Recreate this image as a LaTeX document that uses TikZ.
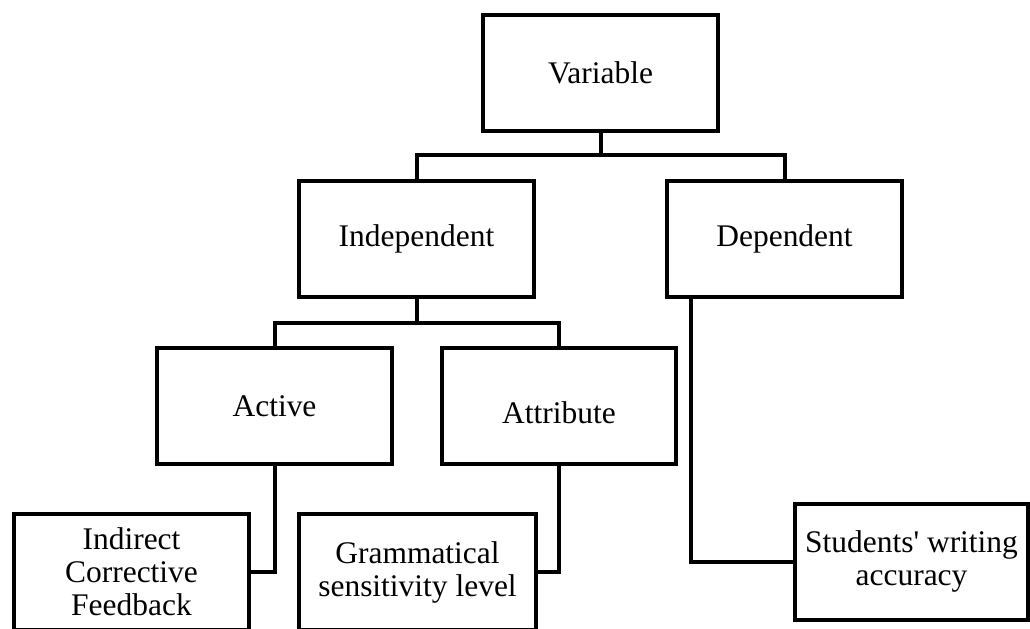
\documentclass[tikz,border=0pt]{standalone}
\usepackage{fontspec}
\setmainfont{Liberation Serif}
\usepackage{tikz}
\usetikzlibrary{calc}
\usetikzlibrary{positioning}

\tikzset{
  varbox/.style={rectangle, draw=black, line width=3pt, minimum width=176pt, minimum height=87pt, align=center, inner sep=2pt, font=\fontsize{23.6pt}{24.75pt}\selectfont},
  branch/.style={black, line width=3pt}
}

\begin{document}
\begin{tikzpicture}[x=0.75pt, y=-0.75pt]
\clip (0,0) rectangle (1030,628);
\useasboundingbox (0,0) rectangle (1030,628);

\node at (600.5,73)[varbox] (variable) {Variable};

\node at (416.5,239)[varbox] (indep) {Independent};
\node at (784.5,239)[varbox] (dep) {Dependent};

\node at (274.5,406)[varbox] (active) {Active};
\node at (559,406)[varbox] (attribute) {\raisebox{-5pt}[\height][\depth]{Attribute}};

\node at (131.5,572)[varbox] (icf) {Indirect\\Corrective\\Feedback};
\node at (417.5,572)[varbox, minimum width=178pt] (gram) {Grammatical\\sensitivity level};
\node at (911.5,561.5)[varbox, minimum width=175pt] (accuracy) {Students\textquotesingle{} writing\\accuracy};

\coordinate (topbus) at (600.5,155);
\coordinate (indbus) at (416.5,323);

\draw[branch] (variable.south) -- (topbus) -| (indep.north);
\draw[branch] (topbus) -| (dep.north);

\draw[branch] (indep.south) -- (indbus) -| (active.north);
\draw[branch] (indbus) -| (attribute.north);

\draw[branch] (active.south) |- (icf.east);
\draw[branch] (attribute.south) |- (gram.east);
\draw[branch] ([xshift=19pt]dep.south west) |- (accuracy.west);
\end{tikzpicture}
\end{document}
